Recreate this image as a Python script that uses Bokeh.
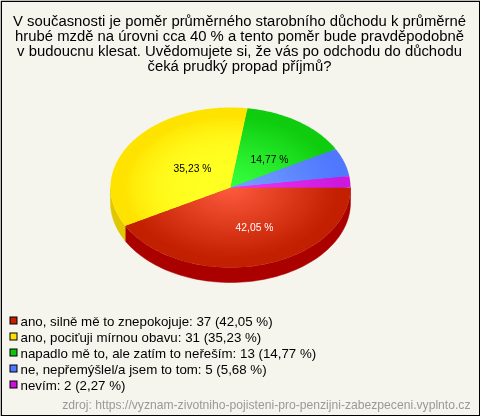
import numpy as np
from bokeh.plotting import figure
from bokeh.models import Range1d
from bokeh.core.properties import value
from bokeh.embed import file_html
from bokeh.resources import INLINE

title_lines = ["V současnosti je poměr průměrného starobního důchodu k průměrné",
               "hrubé mzdě na úrovni cca 40 % a tento poměr bude pravděpodobně",
               "v budoucnu klesat. Uvědomujete si, že vás po odchodu do důchodu",
               "čeká prudký propad příjmů?"]
categories = ["ano, silně mě to znepokojuje", "ano, pociťuji mírnou obavu",
              "napadlo mě to, ale zatím to neřeším", "ne, nepřemýšlel/a jsem to tom", "nevím"]
counts = [37, 31, 13, 5, 2]
percent_labels = ["42,05 %", "35,23 %", "14,77 %", "5,68 %", "2,27 %"]
source = "zdroj: https://vyznam-zivotniho-pojisteni-pro-penzijni-zabezpeceni.vyplnto.cz"

edge_colors = ["#C22000", "#FFE300", "#0FCC0F", "#4F78FF", "#CC1ADD"]
center_colors = ["#FF5C40", "#FFFF22", "#35FF3C", "#7AA2FF", "#F535F5"]
wall_colors = ["#AA0000", "#E0C800", "#0A990A", "#3A5ACC", "#990099"]
legend_colors = ["#C22000", "#FFE000", "#0FC40F", "#4F78FF", "#CC11DD"]
label_colors = ["#ffffff", "#000000", "#000000", None, None]
label_x = [254, 192, 269, None, None]
label_y = [227, 168, 159, None, None]
gradient_power = [1.0, 3.5, 1.3, 1.0, 1.0]

BG = "#F5F5EE"
p = figure(width=480, height=416, output_backend="svg", toolbar_location=None,
           x_range=Range1d(0, 480), y_range=Range1d(416, 0), min_border=0,
           background_fill_color=BG, border_fill_color=BG, outline_line_color=None)
p.axis.visible = False
p.grid.visible = False
p.styles = {"position": "fixed", "left": "0px", "top": "0px"}

# frame
p.quad(left=[0.75], right=[479.25], top=[0.75], bottom=[415.25], fill_color=None,
       line_color="#000000", line_width=1.5, line_join="miter")

cx, cy, rx, ry, depth = 230, 187, 120, 80, 16
fracs = np.array(counts) / sum(counts)
ends = np.cumsum(fracs) * 2 * np.pi
starts = np.r_[0, ends[:-1]]


def hex2rgb(h):
    return np.array([int(h[i:i + 2], 16) for i in (1, 3, 5)], float)


def rgb2hex(c):
    return "#%02x%02x%02x" % tuple(int(round(v)) for v in c)


# side wall (visible only on the front half)
for s, e, col in zip(starts, ends, wall_colors):
    a, b = s, min(e, np.pi)
    if a >= b:
        continue
    t = np.linspace(a, b, 80)
    xs = cx + rx * np.cos(t)
    ys = cy + ry * np.sin(t)
    p.patch(np.r_[xs, xs[::-1]], np.r_[ys, ys[::-1] + depth - 1], fill_color=col, line_color=col, line_width=0.5)

# top face with a radial gradient: stacked wedges, outermost first
N = 36
for i in range(N):
    k = 1 - i / N
    xs_all, ys_all, cols = [], [], []
    for s, e, c0, c1, g in zip(starts, ends, center_colors, edge_colors, gradient_power):
        t = np.linspace(s, e, max(8, int((e - s) * 60)))
        xs_all.append(np.r_[cx, cx + k * rx * np.cos(t)])
        ys_all.append(np.r_[cy, cy + k * ry * np.sin(t)])
        cols.append(rgb2hex(hex2rgb(c0) + (hex2rgb(c1) - hex2rgb(c0)) * min(1, k / 0.9) ** g))
    p.patches(xs_all, ys_all, fill_color=cols, line_color=None)

# value labels
for lx, ly, lab, col in zip(label_x, label_y, percent_labels, label_colors):
    if col is None:
        continue
    p.text([lx], [ly], text=[lab], text_color=col,
           text_font=value("Liberation Sans"), text_font_size="10.3px",
           text_align="center", text_baseline="middle")

# title
for i, line in enumerate(title_lines):
    p.text([239], [20 + 15.3 * i], text=[line], text_color="#000000", text_font=value("Liberation Sans"),
           text_font_size="14.85px", text_align="center", text_baseline="middle")

# legend
row_y = [320, 336, 352, 368, 384]
for y, cat, n, lab, col in zip(row_y, categories, counts, percent_labels, legend_colors):
    p.quad(left=[9], right=[17], top=[y - 4], bottom=[y + 4], fill_color="#000000", line_color=None)
    p.quad(left=[10], right=[16], top=[y - 3], bottom=[y + 3], fill_color=col, line_color=None)
    p.text([20], [y + 0.5], text=[f"{cat}: {n} ({lab})"], text_color="#000000", text_font=value("Liberation Sans"),
           text_font_size="13.3px", text_align="left", text_baseline="middle")

p.text([470], [404], text=[source], text_color="#999999", text_font=value("Liberation Sans"),
       text_font_size="12.15px", text_align="right", text_baseline="middle")

open("out.html", "w").write(file_html(p, INLINE))
